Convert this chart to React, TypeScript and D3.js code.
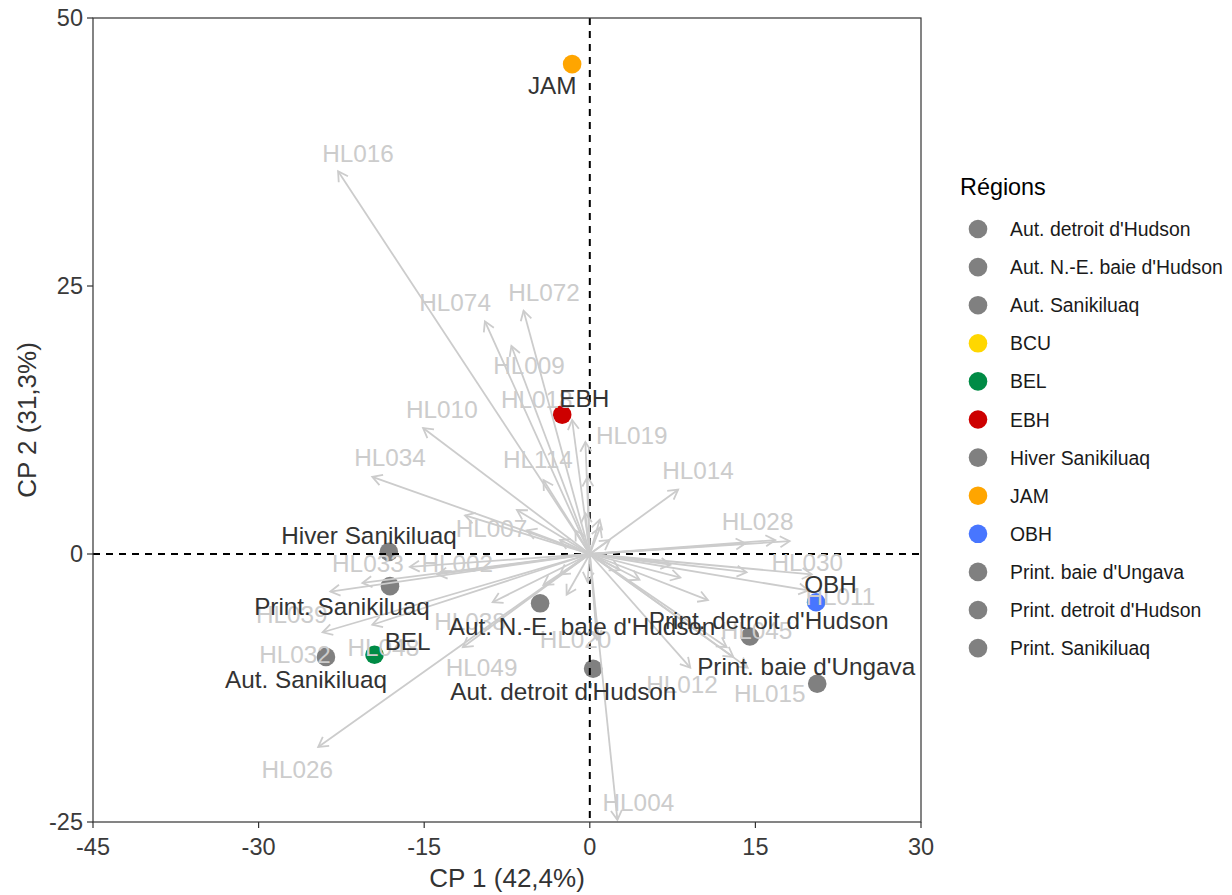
import React from "react";
import * as d3 from "d3";

// individuals (regions)
const regionNames = [
  "JAM", "EBH", "Hiver Sanikiluaq", "Print. Sanikiluaq", "BEL", "Aut. Sanikiluaq",
  "Aut. N.-E. baie d'Hudson", "Aut. detroit d'Hudson", "Print. detroit d'Hudson",
  "Print. baie d'Ungava", "OBH",
];
const regionX = [-1.6, -2.5, -18.2, -18.1, -19.5, -23.9, -4.5, 0.3, 14.5, 20.6, 20.5];
const regionY = [45.7, 13.0, 0.2, -3.0, -9.4, -9.6, -4.6, -10.7, -7.7, -12.1, -4.5];
const regionLabelX = [-3.4, -0.5, -20.0, -22.45, -16.5, -25.7, -0.7, -2.4, 16.2, 19.6, 21.8];
const regionLabelY = [43.75, 14.55, 1.77, -4.94, -8.2, -11.75, -6.72, -12.78, -6.16, -10.54, -2.8];

// legend
const legendNames = [
  "Aut. detroit d'Hudson", "Aut. N.-E. baie d'Hudson", "Aut. Sanikiluaq", "BCU", "BEL", "EBH",
  "Hiver Sanikiluaq", "JAM", "OBH", "Print. baie d'Ungava", "Print. detroit d'Hudson", "Print. Sanikiluaq",
];
const legendColors = [
  "#808080", "#808080", "#808080", "#FFD700", "#008B45", "#CD0000",
  "#808080", "#FFA500", "#4876FF", "#808080", "#808080", "#808080",
];

// variables (loadings), labelled
const varNames = [
  "HL016", "HL074", "HL072", "HL009", "HL010", "HL018", "HL019", "HL034", "HL114", "HL014",
  "HL007", "HL028", "HL033", "HL002", "HL030", "HL011", "HL039", "HL038", "HL045", "HL032",
  "HL048", "HL020", "HL049", "HL012", "HL015", "HL026", "HL004",
];
const varX = [
  -22.8, -9.5, -6.0, -7.1, -15.1, -1.6, -0.4, -19.7, -4.2, 8.0,
  -6.6, 18.1, -20.6, -13.8, 20.1, 19.8, -23.5, -8.8, 12.4, -24.2,
  -19.7, 0.65, -11.5, 9.1, 14.3, -24.6, 2.5,
];
const varY = [
  35.7, 21.7, 22.7, 19.4, 11.75, 12.5, 10.45, 7.2, 6.9, 6.0,
  4.1, 1.2, -2.7, -1.9, -1.9, -3.4, -3.5, -4.5, -8.7, -7.3,
  -6.6, -8.0, -8.7, -10.6, -10.6, -18.0, -24.8,
];
const varLabelX = [
  -21.0, -12.2, -4.15, -5.5, -13.4, -4.8, 3.8, -18.1, -4.7, 9.8,
  -8.9, 15.2, -20.1, -12.0, 19.7, 22.7, -27.0, -10.85, 15.1, -26.7,
  -18.7, -1.3, -9.8, 8.35, 16.3, -26.5, 4.4,
];
const varLabelY = [
  37.4, 23.5, 24.4, 17.6, 13.5, 14.4, 11.1, 9.0, 8.8, 7.8,
  2.4, 3.0, -0.9, -0.85, -0.75, -4.0, -5.6, -6.3, -7.1, -9.4,
  -8.7, -8.0, -10.6, -12.2, -13.0, -20.1, -23.2,
];

// variables whose labels are hidden by overlap
const minorX = [-0.2, 16.8, 14.1, 14.2, 10.7, 8.2, 7.3, -4.2, -2.1, -0.2, -5.7, 0.95, -0.4, -16.3, -11.3, 13.0, 0.9, 1.8, -2.7, 2.7, 4.5, -1.3, -2.7];
const minorY = [7.2, 1.3, 1.0, -1.7, -4.3, -2.2, -1.0, -2.9, -3.8, -2.6, 2.2, 2.5, 3.8, -1.2, 3.6, -9.6, 3.2, 1.3, 1.3, -1.5, -2.4, 2.2, -1.9];

const xTicks = [-45, -30, -15, 0, 15, 30];
const yTicks = [-25, 0, 25, 50];

const FONT = "'Liberation Sans', Arial, sans-serif";
const ARROW = "#CCCCCC";

function arrowHead(x0: number, y0: number, x1: number, y1: number) {
  const a = Math.atan2(y1 - y0, x1 - x0);
  const len = 11;
  const spread = Math.PI / 6;
  const p1 = [x1 - len * Math.cos(a - spread), y1 - len * Math.sin(a - spread)];
  const p2 = [x1 - len * Math.cos(a + spread), y1 - len * Math.sin(a + spread)];
  return `M${p1[0]},${p1[1]}L${x1},${y1}L${p2[0]},${p2[1]}`;
}

export default function App() {
  const width = 1232;
  const height = 895;
  const margin = { top: 18, left: 93, right: 311, bottom: 73 };

  const x = d3.scaleLinear().domain([-45, 30]).range([margin.left, width - margin.right]);
  const y = d3.scaleLinear().domain([-25, 50]).range([height - margin.bottom, margin.top]);

  const colorOf = (name: string) => legendColors[legendNames.indexOf(name)];

  const allArrows = [
    ...varX.map((v, i) => ({ x: v, y: varY[i] })),
    ...minorX.map((v, i) => ({ x: v, y: minorY[i] })),
  ];

  const [left, right] = x.range();
  const [bottom, top] = y.range();

  return (
    <svg width={width} height={height} style={{ position: "absolute", left: 0, top: 0, background: "#fff" }} fontFamily={FONT}>
      {/* points */}
      {regionNames.map((n, i) => (
        <circle key={n} cx={x(regionX[i])} cy={y(regionY[i])} r={9.3} fill={colorOf(n)} />
      ))}

      {/* reference lines */}
      <line x1={x(0)} x2={x(0)} y1={top} y2={bottom} stroke="#000" strokeWidth={2} strokeDasharray="7,6" />
      <line x1={left} x2={right} y1={y(0)} y2={y(0)} stroke="#000" strokeWidth={2} strokeDasharray="7,6" />

      {/* variable arrows */}
      <g stroke={ARROW} strokeWidth={1.8} fill="none">
        {allArrows.map((d, i) => {
          const ox = x(0), oy = y(0), tx = x(d.x), ty = y(d.y);
          return (
            <g key={i}>
              <line x1={ox} y1={oy} x2={tx} y2={ty} />
              <path d={arrowHead(ox, oy, tx, ty)} />
            </g>
          );
        })}
      </g>
      {varNames.map((n, i) => (
        <text key={n} x={x(varLabelX[i])} y={y(varLabelY[i])} fill="#CCCCCC" fontSize={24.3}
          textAnchor="middle" dominantBaseline="central">{n}</text>
      ))}

      {/* region labels */}
      {regionNames.map((n, i) => (
        <text key={n} x={x(regionLabelX[i])} y={y(regionLabelY[i])} fill="#333333" fontSize={24.3}
          textAnchor="middle" dominantBaseline="central">{n}</text>
      ))}

      {/* panel border */}
      <rect x={left} y={top} width={right - left} height={bottom - top} fill="none" stroke="#333" strokeWidth={1.2} />

      {/* axes */}
      {xTicks.map(t => (
        <g key={t}>
          <line x1={x(t)} x2={x(t)} y1={bottom} y2={bottom + 6} stroke="#333" strokeWidth={1.2} />
          <text x={x(t)} y={bottom + 25} fill="#3A3A3A" fontSize={23.5} textAnchor="middle" dominantBaseline="central">{t}</text>
        </g>
      ))}
      {yTicks.map(t => (
        <g key={t}>
          <line x1={left - 6} x2={left} y1={y(t)} y2={y(t)} stroke="#333" strokeWidth={1.2} />
          <text x={left - 10} y={y(t)} fill="#3A3A3A" fontSize={23.5} textAnchor="end" dominantBaseline="central">{t}</text>
        </g>
      ))}
      <text x={(left + right) / 2} y={878} fill="#333" fontSize={26} textAnchor="middle" dominantBaseline="central">CP 1 (42,4%)</text>
      <text transform={`translate(27,${(top + bottom) / 2}) rotate(-90)`} fill="#333" fontSize={26} textAnchor="middle" dominantBaseline="central">CP 2 (31,3%)</text>

      {/* legend */}
      <text x={960} y={187} fontSize={23.4} fill="#000" dominantBaseline="central">Régions</text>
      {legendNames.map((n, i) => (
        <g key={n} transform={`translate(0,${229 + i * 38.1})`}>
          <circle cx={978} cy={0} r={9.3} fill={legendColors[i]} />
          <text x={1010} y={0} fontSize={19.4} fill="#1A1A1A" dominantBaseline="central">{n}</text>
        </g>
      ))}
    </svg>
  );
}
